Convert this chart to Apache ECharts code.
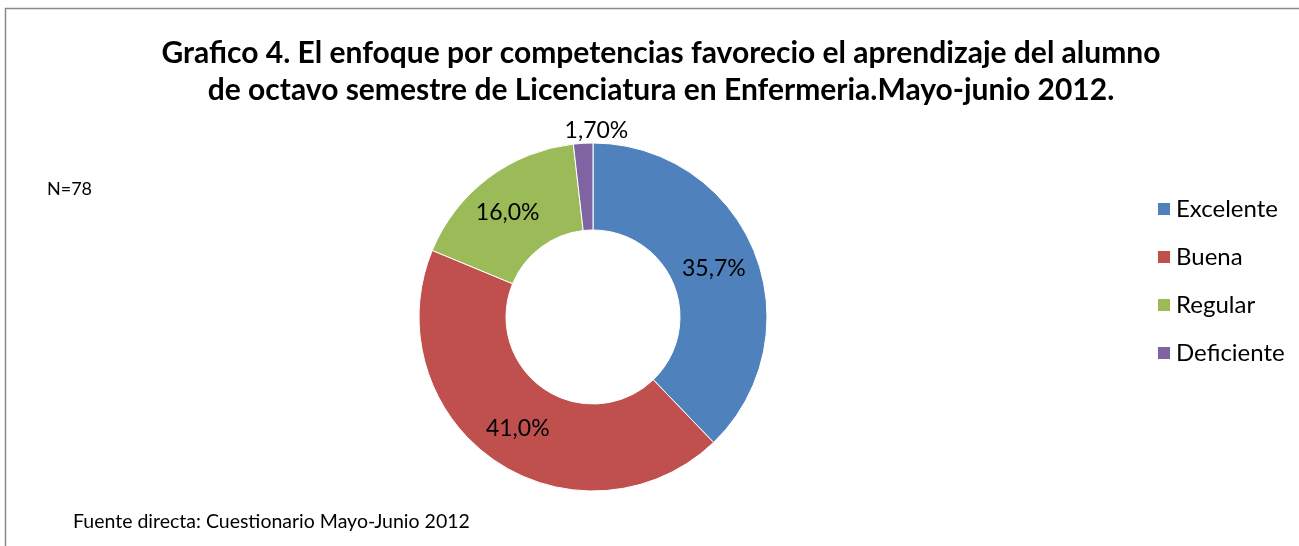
<!DOCTYPE html>
<html>
<head>
<meta charset="utf-8">
<script src="https://cdn.jsdelivr.net/npm/echarts@6/dist/echarts.min.js"></script>
<style>
html,body{margin:0;padding:0;background:#fff;}
#main{width:1299px;height:546px;}
</style>
</head>
<body>
<div id="main"></div>
<script>
// datos del grafico
var categorias = ['Excelente', 'Buena', 'Regular', 'Deficiente'];
var valores = [35.7, 41.0, 16.0, 1.7];
var etiquetas = ['35,7%', '41,0%', '16,0%', '1,70%'];
var colores = ['#4F81BD', '#C0504D', '#9BBB59', '#8064A2'];
// desplazamiento de etiquetas (como en el original)
var desplazar = [[-3, 1], [0, 1], [-5, 2], [11, -53]];

var fuente = 'Lato, "Open Sans", sans-serif';
var chart = echarts.init(document.getElementById('main'));

var datos = [];
for (var i = 0; i < categorias.length; i++) {
	datos.push({
		name: categorias[i],
		value: valores[i],
		itemStyle: { color: colores[i] }
	});
}

var option = {
	animation: false,
	title: {
		text: 'Grafico 4. El enfoque por competencias favorecio el aprendizaje del alumno\nde octavo semestre de Licenciatura en Enfermeria.Mayo-junio 2012.',
		left: 656,
		top: 30,
		textAlign: 'center',
		textStyle: {
			fontFamily: fuente,
			fontSize: 30,
			fontWeight: 'bold',
			color: '#000',
			lineHeight: 37
		}
	},
	legend: {
		orient: 'vertical',
		left: 1151,
		top: 192,
		icon: 'rect',
		itemWidth: 14,
		itemHeight: 14,
		itemGap: 24,
		data: categorias,
		textStyle: {
			fontFamily: fuente,
			fontSize: 24,
			lineHeight: 24,
			color: '#000'
		}
	},
	graphic: [
		{
			type: 'rect',
			shape: { x: 5.5, y: 8.5, width: 1400, height: 600 },
			style: { fill: 'none', stroke: '#8a8a8a', lineWidth: 1.5 }
		},
		{
			type: 'text',
			left: 47,
			top: 180,
			style: { text: 'N=78', fontFamily: fuente, fontSize: 18, fill: '#000' }
		},
		{
			type: 'text',
			left: 73,
			top: 512,
			style: { text: 'Fuente directa: Cuestionario Mayo-Junio 2012', fontFamily: fuente, fontSize: 19.5, fill: '#000' }
		}
	],
	series: [{
		type: 'pie',
		center: [593, 317],
		radius: [87, 174],
		startAngle: 90,
		clockwise: true,
		avoidLabelOverlap: false,
		itemStyle: { borderColor: '#fff', borderWidth: 1 },
		label: {
			show: true,
			position: 'inside',
			fontFamily: fuente,
			fontSize: 23,
			color: '#000',
			formatter: function (p) { return etiquetas[p.dataIndex]; }
		},
		labelLine: { show: false },
		labelLayout: function (p) {
			return { dx: desplazar[p.dataIndex][0], dy: desplazar[p.dataIndex][1] };
		},
		emphasis: { disabled: true },
		data: datos
	}]
};
chart.setOption(option);
</script>
</body>
</html>
